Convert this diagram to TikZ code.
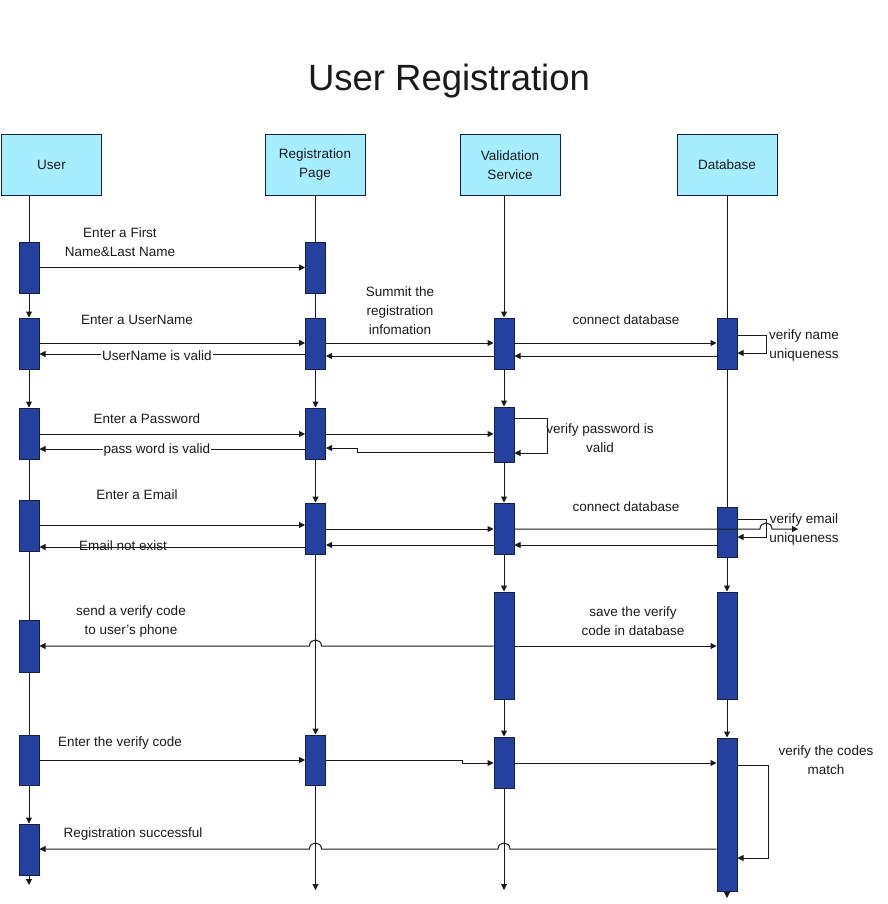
\documentclass[tikz,border=0pt]{standalone}
\usepackage{fontspec}
\setmainfont{Liberation Sans}
\usetikzlibrary{arrows.meta}
\definecolor{headfill}{RGB}{166,238,255}
\definecolor{barfill}{RGB}{37,65,160}
\definecolor{edgeblue}{RGB}{20,30,70}
\definecolor{inkgrey}{RGB}{26,26,26}

\begin{document}
\begin{tikzpicture}[x=1pt, y=-1pt, line width=1pt, draw=inkgrey,
  every node/.style = {font=\fontsize{13.5}{19}\selectfont, align=center, text=inkgrey},
  head/.style = {draw=edgeblue, fill=headfill, minimum width=100pt,
    minimum height=60pt, inner sep=0pt},
  actbar/.style = {draw=edgeblue, fill=barfill, minimum width=20pt, inner sep=0pt},
  msg/.style = {-{Triangle[length=6pt,width=6pt]}},
  plain/.style = {fill=white, inner sep=1pt}]
  \useasboundingbox (0,0) rectangle (887,904);

  \node[font=\fontsize{36.5}{40}\selectfont] (title) at (449,81) {User Registration};

  % lifeline heads
  \node[head] (hUser) at (51.5,165) {User};
  \node[head] (hReg) at (315,165) {Registration\\Page};
  \node[head] (hVal) at (510,165) {Validation\\Service};
  \node[head] (hDb) at (727,165) {Database};

  % activation bars
  \node[actbar, minimum height=51pt] (u1) at (29,267.5) {};
  \node[actbar, minimum height=51pt] (u2) at (29,343.5) {};
  \node[actbar, minimum height=51pt] (u3) at (29,433.5) {};
  \node[actbar, minimum height=51pt] (u4) at (29,525.5) {};
  \node[actbar, minimum height=52pt] (u5) at (29,646) {};
  \node[actbar, minimum height=50pt] (u6) at (29,760) {};
  \node[actbar, minimum height=51pt] (u7) at (29,849.5) {};
  \node[actbar, minimum height=51pt] (r1) at (315.5,267.5) {};
  \node[actbar, minimum height=51pt] (r2) at (315.5,343.5) {};
  \node[actbar, minimum height=51pt] (r3) at (315.5,433.5) {};
  \node[actbar, minimum height=51pt] (r4) at (315.5,528.5) {};
  \node[actbar, minimum height=50pt] (r6) at (315.5,760) {};
  \node[actbar, minimum height=51pt] (v2) at (504,343.5) {};
  \node[actbar, minimum height=55pt] (v3) at (504,434.5) {};
  \node[actbar, minimum height=51pt] (v4) at (504,528.5) {};
  \node[actbar, minimum height=107pt] (v5) at (504,645.5) {};
  \node[actbar, minimum height=51pt] (v6) at (504,762.5) {};
  \node[actbar, minimum height=51pt] (d2) at (727,343.5) {};
  \node[actbar, minimum height=50pt] (d4) at (727,532) {};
  \node[actbar, minimum height=107pt] (d5) at (727,645.5) {};
  \node[actbar, minimum height=153pt] (d6) at (727,814.5) {};

  \coordinate (uEnd) at (29,885);
  \coordinate (rEnd) at (315.5,890);
  \coordinate (vEnd) at (504,890);
  \coordinate (dEnd) at (727,898);

  % lifelines
  \draw (hUser.south -| u1.north) -- (u1.north);
  \draw (hReg.south -| r1.north) -- (r1.north);
  \draw (hDb.south -| d2.north) -- (d2.north);
  \draw[msg] (hVal.south -| v2.north) -- (v2.north);
  \foreach \a/\b in {u3/u4, u4/u5, u5/u6, r1/r2, d2/d4}
    \draw (\a.south) -- (\b.north);
  \foreach \a/\b in {u1/u2, u2/u3, u6/u7, u7/uEnd, r2/r3, r3/r4, r4/r6, r6/rEnd,
      v2/v3, v3/v4, v4/v5, v5/v6, v6/vEnd, d4/d5, d5/d6, d6/dEnd}
    \draw[msg] (\a.south) -- (\b.north);

  % first name
  \draw[msg] (u1.east) -- (r1.west);
  \node at (120,242.5) {Enter a First\\Name\&Last Name};

  % user name
  \draw[msg] (u2.east |- 0,343) -- (r2.west |- 0,343);
  \draw[msg] (r2.west |- 0,354) -- (u2.east |- 0,354);
  \draw[msg] (r2.east |- 0,343) -- (v2.west |- 0,343);
  \draw[msg] (v2.west |- 0,356) -- (r2.east |- 0,356);
  \draw[msg] (v2.east |- 0,343) -- (d2.west |- 0,343);
  \draw[msg] (d2.west |- 0,356) -- (v2.east |- 0,356);
  \draw[msg] (d2.east |- 0,335) -- ++(29,0) |- (d2.east |- 0,353);
  \node at (137,320) {Enter a UserName};
  \node[plain] at (157,356) {UserName is valid};
  \node at (400,311) {Summit the\\registration\\infomation};
  \node at (626,320) {connect database};
  \node at (804,345.5) {verify name\\uniqueness};

  % password
  \draw[msg] (u3.east |- 0,434) -- (r3.west |- 0,434);
  \draw[msg] (r3.west |- 0,449) -- (u3.east |- 0,449);
  \draw[msg] (r3.east |- 0,434) -- (v3.west |- 0,434);
  \draw[msg] (v3.west |- 0,452) -- (357,452) -- (357,448) -- (r3.east |- 0,448);
  \draw[msg] (v3.east |- 0,418) -- ++(33,0) |- (v3.east |- 0,453);
  \node at (147,419) {Enter a Password};
  \node[plain] at (157,450.5) {pass word is valid};
  \node at (600,438.5) {verify password is\\valid};

  % email
  \draw[msg] (u4.east |- 0,525) -- (r4.west |- 0,525);
  \draw[msg] (r4.west |- 0,547) -- (u4.east |- 0,547);
  \draw[msg] (r4.east |- 0,529) -- (v4.west |- 0,529);
  \draw[msg] (v4.west |- 0,545) -- (r4.east |- 0,545);
  \draw[msg] (d4.east |- 0,519) -- ++(29,0) |- (d4.east |- 0,537);
  \draw[msg] (v4.east |- 0,529) -- (760,529)
    .. controls (760,521) and (772,521) .. (772,529) -- (798,529);
  \draw[msg] (d4.west |- 0,545) -- (v4.east |- 0,545);
  \node at (137,495) {Enter a Email};
  \node at (123,546) {Email not exist};
  \node at (626,507) {connect database};
  \node at (804,529.5) {verify email\\uniqueness};

  % verify code
  \draw[msg] (v5.west |- 0,646) -- (321.5,646)
    .. controls (321.5,638) and (309.5,638) .. (309.5,646) -- (u5.east |- 0,646);
  \draw[msg] (v5.east |- 0,646) -- (d5.west |- 0,646);
  \node at (131,621.5) {send a verify code\\to user's phone};
  \node at (633,621.5) {save the verify\\code in database};

  % enter code
  \draw[msg] (u6.east |- 0,760) -- (r6.west |- 0,760);
  \draw[msg] (r6.east |- 0,760) -- (462,760) -- (462,763) -- (v6.west |- 0,763);
  \draw[msg] (v6.east |- 0,763) -- (d6.west |- 0,763);
  \draw[msg] (d6.east |- 0,765) -- ++(31,0) |- (d6.east |- 0,858);
  \node at (120,743) {Enter the verify code};
  \node at (826,760.5) {verify the codes\\match};

  % success
  \draw[msg] (d6.west |- 0,849) -- (510,849)
    .. controls (510,841) and (498,841) .. (498,849) -- (321.5,849)
    .. controls (321.5,841) and (309.5,841) .. (309.5,849) -- (u7.east |- 0,849);
  \node at (133,834) {Registration successful};
\end{tikzpicture}
\end{document}
